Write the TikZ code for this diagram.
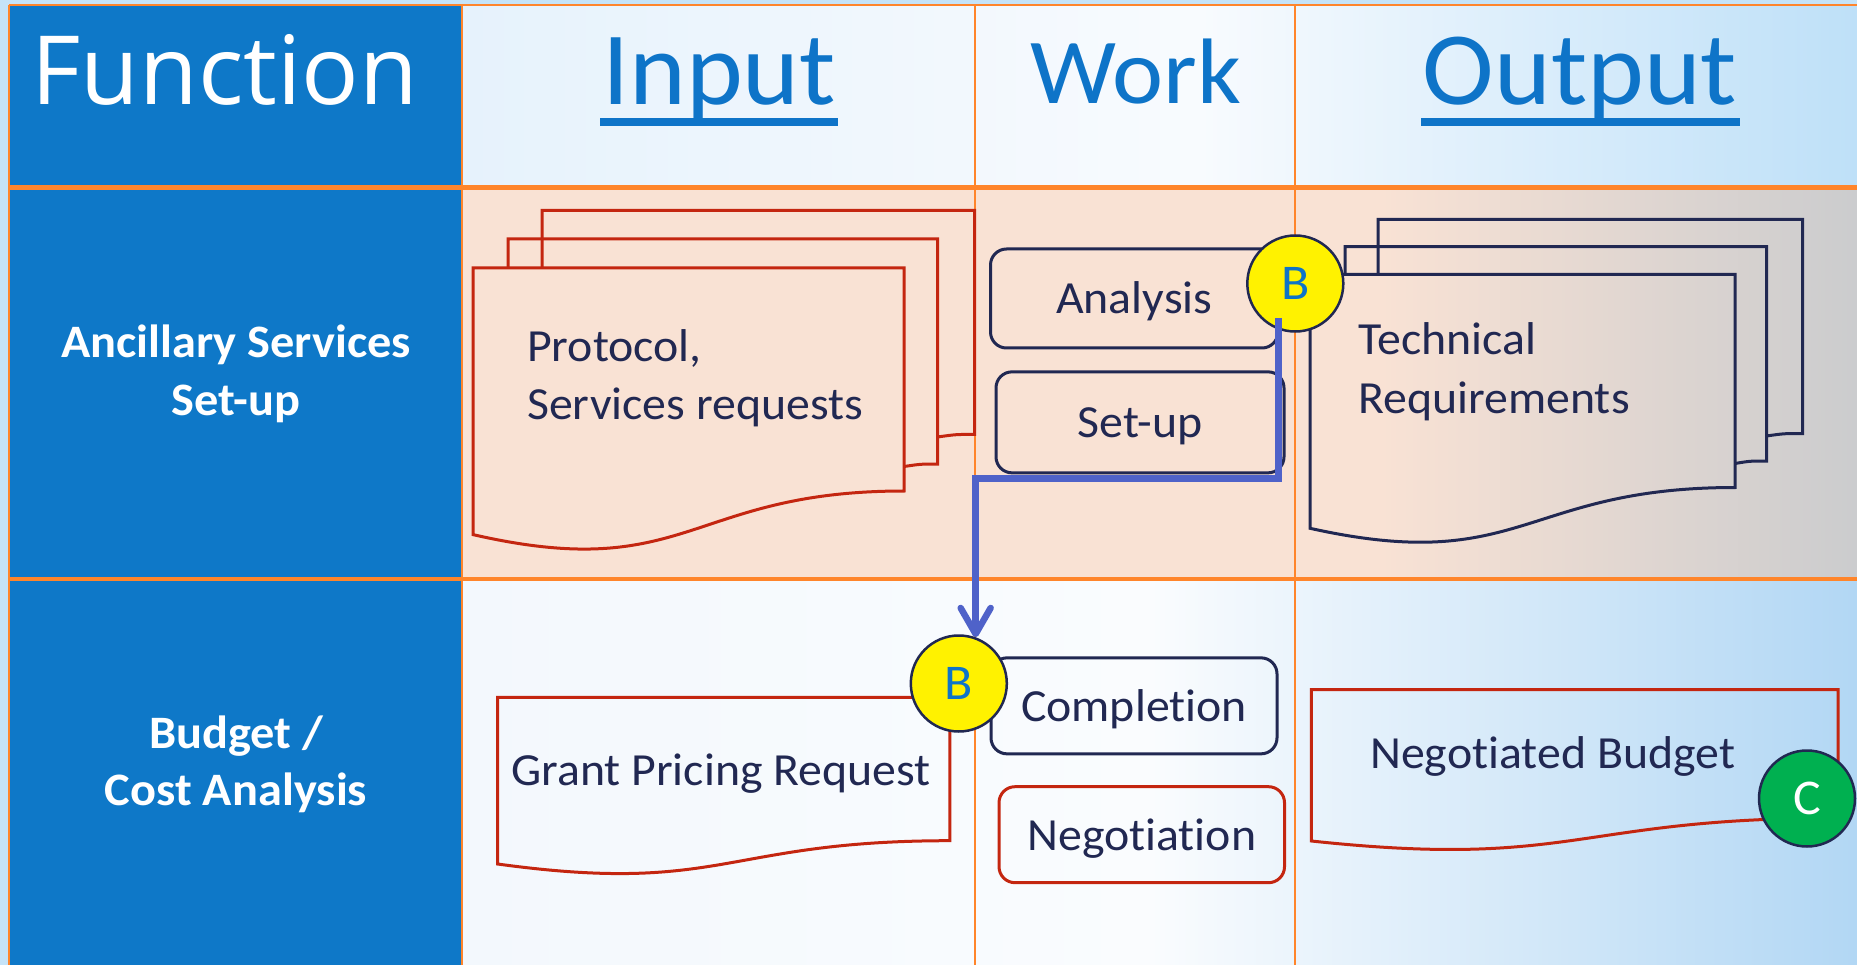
\documentclass[tikz,border=0pt]{standalone}
\usepackage{fontspec}
\setmainfont{Carlito}[Ligatures=NoCommon, FakeStretch=1.04]
\newfontfamily\fnfont{Open Sans}
\usetikzlibrary{arrows.meta,calc,fadings}
\definecolor{bgblue}{RGB}{197,227,248}
\definecolor{fnblue}{RGB}{14,120,200}
\definecolor{hdrblue}{RGB}{14,116,200}
\definecolor{gridorange}{RGB}{255,133,43}
\definecolor{navy}{RGB}{33,40,82}
\definecolor{docred}{RGB}{196,38,16}
\definecolor{connblue}{RGB}{79,98,201}
\definecolor{peach}{RGB}{249,226,212}
\definecolor{peachgrey}{RGB}{203,204,206}
\definecolor{greenC}{RGB}{0,176,80}
\definecolor{haze}{RGB}{200,226,248}
\tikzfading[name=bandfade, top color=transparent!100, middle color=transparent!30, bottom color=transparent!100]
\begin{document}
\begin{tikzpicture}[x=1pt,y=-1pt,
  grid/.style={draw=gridorange},
  hdr/.style={font=\fontsize{104}{110}\selectfont, text=hdrblue, inner sep=0pt, anchor=base},
  side/.style={font=\fontsize{46.5}{57}\bfseries\selectfont, text=white, inner sep=0pt, anchor=base},
  body/.style={font=\fontsize{46}{57}\selectfont, text=navy, inner sep=0pt, anchor=base west},
  navydoc/.style={draw=navy, line width=3pt, line join=miter},
  reddoc/.style={draw=docred, line width=3pt, line join=miter},
  taskbox/.style={draw=#1, line width=3pt, rounded corners=16pt, inner sep=0pt,
    font=\fontsize{46}{57}\selectfont, text=navy, text height=40pt, text depth=9pt},
  marker/.style={circle, draw=navy, line width=2.5pt, minimum size=96pt, inner sep=0pt,
    font=\fontsize{50}{55}\selectfont},
  conn/.style={draw=connblue, line width=6.5pt, -{Straight Barb[length=26pt,width=30pt,round]}},
]
\useasboundingbox (0,0) rectangle (1857,965);
% background
\fill[bgblue] (0,0) rectangle (1857,965);
\fill[fnblue] (9,5) rectangle (462,965);
% header row
\shade[left color={rgb,255:red,230;green,242;blue,252}, right color={rgb,255:red,248;green,251;blue,254}] (462,5) rectangle (1200,187.5);
\shade[left color={rgb,255:red,248;green,251;blue,254}, right color={rgb,255:red,190;green,224;blue,248}] (1200,5) rectangle (1857,187.5);
% row 1
\fill[peach] (462,187.5) rectangle (1380,578.5);
\shade[left color=peach, right color=peachgrey] (1380,187.5) rectangle (1857,578.5);
% row 2
\shade[left color={rgb,255:red,243;green,248;blue,253}, right color={rgb,255:red,250;green,252;blue,254}] (462,578.5) rectangle (1150,965);
\shade[left color={rgb,255:red,250;green,252;blue,254}, right color={rgb,255:red,178;green,215;blue,244}] (1150,578.5) rectangle (1857,965);
\fill[haze, path fading=bandfade] (462,620) rectangle (1857,760);
% grid
\draw[grid, line width=2.5pt] (9,5) -- (1857,5);
\draw[grid, line width=2.5pt] (9,5) -- (9,965);
\draw[grid, line width=2pt] (462,5) -- (462,965);
\draw[grid, line width=2pt] (974.5,5) -- (974.5,965);
\draw[grid, line width=2pt] (1294.5,5) -- (1294.5,965);
\draw[grid, line width=5pt] (9,187.5) -- (1857,187.5);
\draw[grid, line width=4pt] (9,578.5) -- (1857,578.5);
% headers
\node[hdr, text=white, font=\fnfont\fontsize{95.5}{100}\selectfont] (fn) at (224.7,105) {Function};
\node[hdr] (inp) at (719,105) {Input};
\fill[hdrblue] ($(inp.base west)+(-2,12.7)$) rectangle ($(inp.base east)+(2,21)$);
\node[hdr, font=\fontsize{93}{100}\selectfont] (wrk) at (1135.7,103.3) {Work};
\node[hdr] (outp) at (1580,105) {Output};
\fill[hdrblue] ($(outp.base west)+(-2,12.7)$) rectangle ($(outp.base east)+(2,21)$);
% side labels
\node[side] (anc1) at (236,357.8) {Ancillary Services};
\node[side] (anc2) at (236,415) {Set-up};
\node[side] (bud1) at (236,748) {Budget /};
\node[side] (bud2) at (236,805) {Cost Analysis};
% Protocol multi-document
\draw[reddoc] (542,268) -- (542,210.5) -- (974.5,210.5) -- (974.5,434.4) .. controls (956,434.4) .. (937.5,437);
\draw[reddoc] (508,268) -- (508,239) -- (937.5,239) -- (937.5,464) .. controls (921,464) .. (904,466.5);
\draw[reddoc] (473,268) -- (904,268) -- (904,491) .. controls (688.5,491) and (688.5,584) .. (473,534.6) -- cycle;
\node[body] (prot1) at (527,361.6) {Protocol,};
\node[body] (prot2) at (527,419) {Services requests};
% Technical requirements multi-document
\draw[navydoc] (1378,274.3) -- (1378,219.3) -- (1802.6,219.3) -- (1802.6,433.5) .. controls (1784,433.5) .. (1766.5,436);
\draw[navydoc] (1345,274.3) -- (1345,246.7) -- (1766.5,246.7) -- (1766.5,461) .. controls (1750,461) .. (1735,463.5);
\draw[navydoc] (1310,274.3) -- (1735,274.3) -- (1735,487.5) .. controls (1522.5,487.5) and (1522.5,575.5) .. (1310,528.3) -- cycle;
\node[body] (tech1) at (1358,355) {Technical};
\node[body] (tech2) at (1358,413.3) {Requirements};
% Grant pricing document
\draw[reddoc] (497.6,697.3) -- (949.8,697.3) -- (949.8,840.7) .. controls (723.7,840.7) and (723.7,895) .. (497.6,864) -- cycle;
\node[body] (grant) at (511,785) {Grant Pricing Request};
% Negotiated budget document
\draw[reddoc] (1311.4,689.5) -- (1838,689.5) -- (1838,818) .. controls (1574.7,818) and (1574.7,869.2) .. (1311.4,841) -- cycle;
\node[body] (negb) at (1370,768) {Negotiated Budget};
% work boxes
\node[taskbox=navy, minimum width=287.5pt, minimum height=99pt] (analysis) at (1134.25,298.5) {Analysis};
\node[taskbox=navy, minimum width=288pt, minimum height=101pt] (setup) at (1140,422.35) {Set-up};
\node[taskbox=navy, minimum width=286pt, minimum height=96pt] (completion) at (1134,705.85) {Completion};
\node[taskbox=docred, minimum width=285.5pt, minimum height=96pt] (negotiation) at (1141.75,834.7) {Negotiation};
% markers
\node[marker, fill=yellow, text=hdrblue] (Btop) at (1295.3,283.5) {B};
\node[marker, fill=yellow, text=hdrblue] (Bbot) at (958.8,683.5) {B};
\node[marker, fill=greenC, text=white] (Cc) at (1807,798.5) {C};
% connector
\draw[conn] ([shift={(-17,35)}]Btop.center) -- ++(0,160) -| (Bbot.70);
\end{tikzpicture}
\end{document}
